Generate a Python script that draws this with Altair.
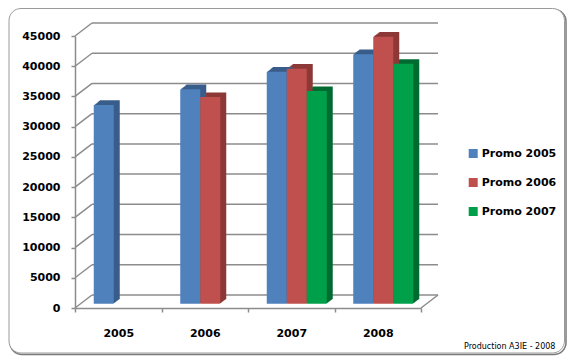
import altair as alt
import pandas as pd

# ---- data ----
years = ["2005", "2006", "2007", "2008"]
series = ["Promo 2005", "Promo 2006", "Promo 2007"]
promo_2005 = [32900, 35500, 38400, 41300]
promo_2006 = [None, 34200, 38900, 44200]
promo_2007 = [None, None, 35200, 39700]
y_ticks = [0, 5000, 10000, 15000, 20000, 25000, 30000, 35000, 40000, 45000]
footer = "Production A3IE - 2008"

front_colors = ["#4f81bd", "#c0504d", "#00a04a"]
side_colors = ["#385d8a", "#8c3836", "#006b30"]

rows = []
for s, vals in zip(series, [promo_2005, promo_2006, promo_2007]):
    for y, v in zip(years, vals):
        if v is not None:
            rows.append({"year": y, "series": s, "value": v})
df = pd.DataFrame(rows)
ticks_df = pd.DataFrame({"v": y_ticks})
floor_df = pd.DataFrame({"v": [0]})

# ---- geometry ----
W, H = 346, 272
DX, DY = 17, -13        # back wall shift
BX, BY = 5.5, -4.2      # bar front-face plane shift
DEPTH = 6               # bar depth in px
band = W / len(years)
group_w = 60
gstart = (band - group_w) / 2

FONT = "DejaVu Sans"
GRID = "#8c8c8c"

yscale = alt.Scale(domain=[0, 45000], nice=False, zero=True)
xscale = alt.Scale(domain=years, paddingInner=0, paddingOuter=0)

x_axis = alt.Axis(title=None, tickBand="extent", labelAngle=0, tickSize=4,
                  labelPadding=15, domainColor=GRID, tickColor=GRID,
                  domainWidth=1.5, tickWidth=1.5, labelFont=FONT,
                  labelFontSize=11, labelFontWeight="bold", labelColor="black",
                  zindex=1)
y_axis = alt.Axis(title=None, values=y_ticks, format="d", tickSize=4,
                  labelPadding=11, grid=False, domainColor=GRID, tickColor=GRID,
                  domainWidth=1.5, tickWidth=1.5, labelFont=FONT,
                  labelFontSize=11, labelFontWeight="bold", labelColor="black",
                  zindex=1)


def bar_layer(dx, dy, colors, legend=None):
    off_scale = alt.Scale(domain=series, range=[gstart + dx, gstart + dx + group_w],
                          paddingInner=0, paddingOuter=0)
    return alt.Chart(df).mark_bar(yOffset=dy, y2Offset=dy, strokeWidth=0).encode(
        x=alt.X("year:N", scale=xscale, sort=years, axis=x_axis),
        xOffset=alt.XOffset("series:N", scale=off_scale, sort=series),
        y=alt.Y("value:Q", scale=yscale, axis=y_axis),
        color=alt.Color("series:N", scale=alt.Scale(domain=series, range=colors),
                        legend=legend),
    )


one = alt.Data(values=[{"k": 1}])

shadow = alt.Chart(one).mark_rect(cornerRadius=12, filled=False, stroke="#7a7a7a",
                                  strokeWidth=1.5).encode(
    x=alt.value(-65), x2=alt.value(491), y=alt.value(-26.5), y2=alt.value(318.5))
border = alt.Chart(one).mark_rect(cornerRadius=12, fill="white", stroke="#9a9a9a",
                                  strokeWidth=1).encode(
    x=alt.value(-66), x2=alt.value(489.5), y=alt.value(-27.5), y2=alt.value(317))

grid = alt.Chart(ticks_df).mark_rule(color=GRID, strokeWidth=1.5, yOffset=DY).encode(
    x=alt.value(DX), x2=alt.value(W + DX),
    y=alt.Y("v:Q", scale=yscale, axis=y_axis))
diag = alt.Chart(ticks_df).mark_rule(color=GRID, strokeWidth=1.5, y2Offset=DY).encode(
    x=alt.value(0), x2=alt.value(DX),
    y=alt.Y("v:Q", scale=yscale, axis=y_axis), y2=alt.Y2("v:Q"))
floor_r = alt.Chart(floor_df).mark_rule(color=GRID, strokeWidth=1.5, y2Offset=DY).encode(
    x=alt.value(W), x2=alt.value(W + DX),
    y=alt.Y("v:Q", scale=yscale, axis=y_axis), y2=alt.Y2("v:Q"))

sides = []
for i in range(1, DEPTH + 1):
    sides.append(bar_layer(BX + i, BY - i * 0.77, side_colors))

legend = alt.Legend(title=None, orient="none", legendX=392.7, legendY=112,
                    direction="vertical", symbolType="square", symbolSize=81,
                    symbolStrokeWidth=0, labelFont=FONT, labelFontSize=11,
                    labelFontWeight="bold", labelColor="black", rowPadding=17,
                    labelOffset=3, padding=0, zindex=1)
front = bar_layer(BX, BY, front_colors, legend=legend)

text = alt.Chart(alt.Data(values=[{"t": footer}])).mark_text(
    align="left", baseline="middle", font=FONT, fontSize=8, color="black").encode(
    x=alt.value(389), y=alt.value(310.5), text="t:N")

chart = alt.layer(shadow, border, grid, diag, floor_r, *sides, front, text).properties(
    width=W, height=H, padding=0
).resolve_scale(xOffset="independent", color="independent").configure_view(stroke=None)

chart.save("out.html", embed_options={"renderer": "svg", "actions": False})
